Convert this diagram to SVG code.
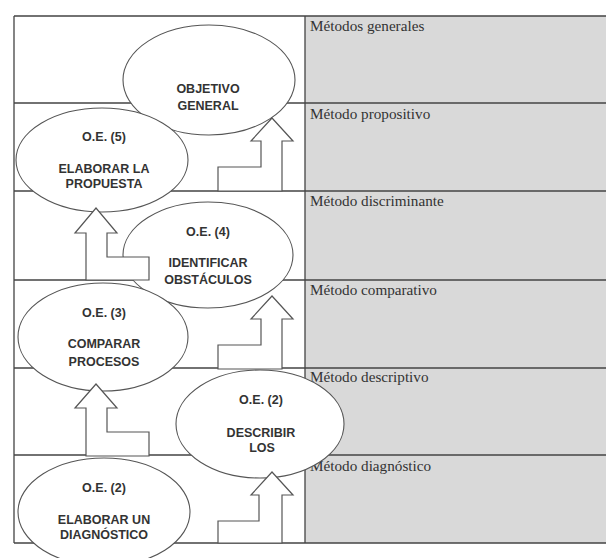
<svg xmlns="http://www.w3.org/2000/svg" width="606" height="558" viewBox="0 0 606 558">
<style>
.grid{stroke:#444;stroke-width:1.3;fill:none}
.lbl{font-family:"Liberation Serif",serif;font-size:15.2px;fill:#333}
.node{fill:#fff;stroke:#555;stroke-width:1.1}
.nt{font-family:"Liberation Sans",Arial,sans-serif;font-size:12.5px;font-weight:bold;fill:#333;text-anchor:middle}
.arr{fill:#fff;stroke:#555;stroke-width:1.2;stroke-linejoin:miter}
</style>
<rect width="606" height="558" fill="#fff"/>
<g id="table">
<rect x="305" y="16" width="301" height="527" fill="#d9d9d9"/>
<path class="grid" d="M14,16H606M14,103H606M14,191H606M14,280H606M14,368H606M14,455H606M14,543H606M14,16V543M305,16V543"/>
<text class="lbl" x="310" y="31">Métodos generales</text>
<text class="lbl" x="310" y="119">Método propositivo</text>
<text class="lbl" x="310" y="206">Método discriminante</text>
<text class="lbl" x="310" y="295">Método comparativo</text>
<text class="lbl" x="310" y="382">Método descriptivo</text>
<text class="lbl" x="310" y="471">Método diagnóstico</text>
</g>
<g id="n-general">
<ellipse class="node" cx="209" cy="80" rx="86" ry="55"/>
<text class="nt" x="208" y="93">OBJETIVO</text>
<text class="nt" x="208" y="110">GENERAL</text>
</g>
<g id="n-oe5">
<ellipse class="node" cx="102" cy="160" rx="86" ry="52"/>
<text class="nt" x="104" y="141">O.E. (5)</text>
<text class="nt" x="104" y="173">ELABORAR LA</text>
<text class="nt" x="104" y="188">PROPUESTA</text>
</g>
<g id="n-oe4">
<ellipse class="node" cx="208" cy="255" rx="85" ry="53"/>
<text class="nt" x="208" y="236">O.E. (4)</text>
<text class="nt" x="208" y="267">IDENTIFICAR</text>
<text class="nt" x="208" y="284">OBSTÁCULOS</text>
</g>
<g id="n-oe3">
<ellipse class="node" cx="103" cy="337" rx="85" ry="54"/>
<text class="nt" x="104" y="317">O.E. (3)</text>
<text class="nt" x="104" y="348">COMPARAR</text>
<text class="nt" x="104" y="366">PROCESOS</text>
</g>
<g id="n-oe2b">
<ellipse class="node" cx="260" cy="424" rx="84" ry="54"/>
<text class="nt" x="261" y="404">O.E. (2)</text>
<text class="nt" x="261" y="437">DESCRIBIR</text>
<text class="nt" x="262" y="452">LOS</text>
</g>
<g id="n-oe2a">
<ellipse class="node" cx="104" cy="512" rx="86" ry="54"/>
<text class="nt" x="104" y="492">O.E. (2)</text>
<text class="nt" x="104" y="524">ELABORAR UN</text>
<text class="nt" x="104" y="539">DIAGNÓSTICO</text>
</g>
<g id="connectors">
<path class="arr" d="M218,191V167H261V141H251L272,118L293,141H282V191Z"/>
<path class="arr" d="M218,369V345H261V319H251L272,296L293,319H282V369Z"/>
<path class="arr" d="M218,543V521H259V495H251L272,472L293,495H282V543Z"/>
<path class="arr" d="M86,280V233H75L96,208L117,233H107V257H149V280Z"/>
<path class="arr" d="M86,456V408H75L96,384L117,408H107V432H149V456Z"/>
</g>
</svg>
